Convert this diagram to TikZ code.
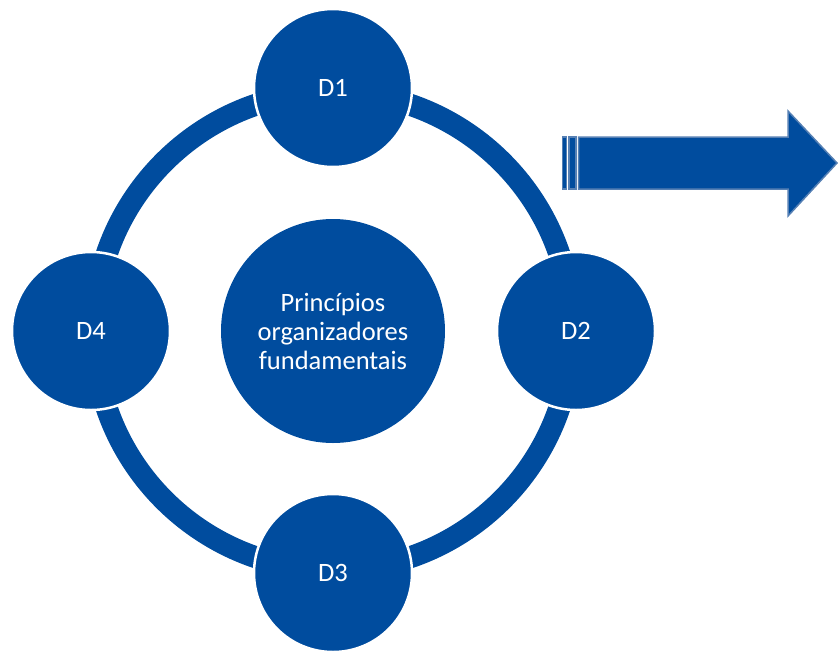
\documentclass[tikz,border=0pt]{standalone}
\usepackage{fontspec}
\setmainfont{Carlito}

\definecolor{cycleblue}{RGB}{0,76,158}
\definecolor{arrowrim}{RGB}{86,128,180}

\begin{document}
\begin{tikzpicture}[x=1pt,y=-1pt]
\useasboundingbox (0,0) rectangle (838,654);

\coordinate (C0) at (333, 331);
\coordinate (D1_1) at (333, 88);
\coordinate (D2_1) at (576, 331);
\coordinate (D3_1) at (333, 573);
\coordinate (D4_1) at (91, 331);


\tikzset{RingStyle/.style = {draw=cycleblue, line width=22pt} }

\draw[RingStyle] (C0) circle[radius=239];


\tikzset{DimStyle/.style = {
 shape = circle,
 fill = cycleblue,
 draw = white,
 line width = 2.5pt,
 text = white,
 inner sep = 0pt,
 outer sep = 0pt,
 minimum size = 158pt,
 font = \fontsize{26.5}{29}\selectfont} }

\tikzset{CoreStyle/.style = {
 DimStyle,
 draw = none,
 align = center,
 minimum size = 224pt} }

\node[CoreStyle] (P0) at (C0) {Princípios\\organizadores\\fundamentais};
\node[DimStyle] (D1) at (D1_1) {D1};
\node[DimStyle] (D2) at (D2_1) {D2};
\node[DimStyle] (D3) at (D3_1) {D3};
\node[DimStyle] (D4) at (D4_1) {D4};


\tikzset{ArrowStyle/.style = {fill=cycleblue, draw=arrowrim, line width=1.5pt, line join=miter} }

% striped tail, then body and head
\draw[ArrowStyle] (562.5, 137) rectangle (566.5, 189);
\draw[ArrowStyle] (569, 137) rectangle (576, 189);
\draw[ArrowStyle] (578.5, 137) -- (788, 137) -- (788, 111) -- (837, 163)
  -- (788, 216) -- (788, 189) -- (578.5, 189) -- cycle;

\end{tikzpicture}
\end{document}
